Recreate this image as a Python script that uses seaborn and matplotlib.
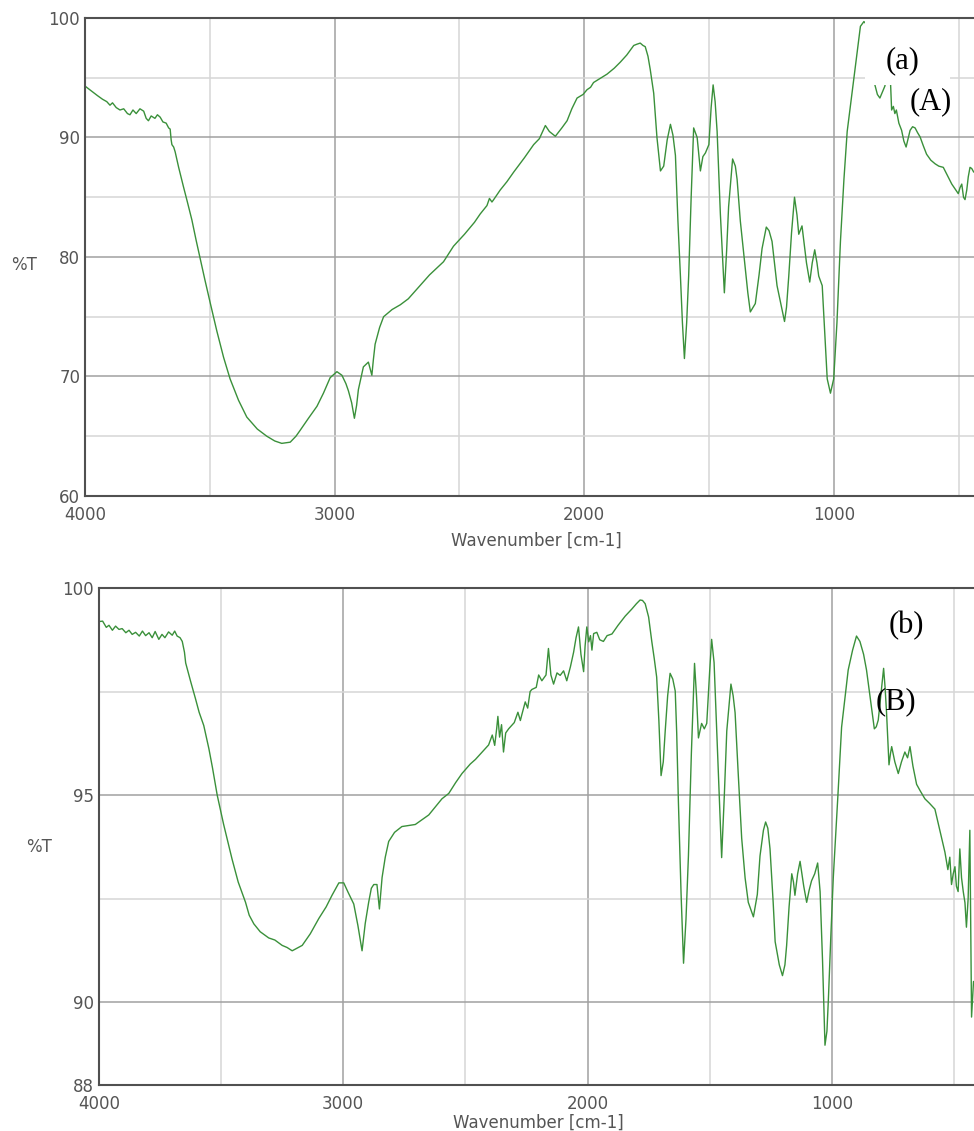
import numpy as np
import pandas as pd

import matplotlib
matplotlib.use('Agg')
import matplotlib.pyplot as plt
from matplotlib.ticker import MultipleLocator, FixedLocator
from matplotlib.patches import Rectangle
import seaborn as sns
sns.set_theme(style='white')
plt.rcParams['font.family'] = ['DejaVu Sans']

# -----------------------------------------------------------------------------
# spectrum (a): wavenumber [cm-1] / %T
# -----------------------------------------------------------------------------
wn_a = [4000, 3975, 3950, 3930, 3913, 3900, 3890, 3875, 3860, 3845, 3830, 3820,
        3808, 3795, 3780, 3765, 3755, 3746, 3735, 3720, 3710, 3699, 3688, 3675,
        3665, 3659, 3655, 3652, 3645, 3639, 3625, 3606, 3590, 3572, 3555, 3539,
        3520, 3499, 3472, 3445, 3419, 3385, 3352, 3310, 3272, 3240, 3212, 3178,
        3155, 3138, 3105, 3071, 3045, 3018, 2991, 2971, 2955, 2945, 2932, 2921,
        2912, 2905, 2885, 2865, 2851, 2845, 2838, 2820, 2804, 2770, 2737, 2705,
        2671, 2620, 2564, 2524, 2480, 2440, 2417, 2390, 2380, 2370, 2363, 2337,
        2310, 2283, 2240, 2203, 2180, 2156, 2140, 2116, 2090, 2069, 2050, 2029,
        2005, 1989, 1975, 1963, 1940, 1909, 1880, 1856, 1830, 1802, 1790, 1776,
        1765, 1756, 1745, 1736, 1722, 1709, 1695, 1682, 1668, 1655, 1645, 1635,
        1625, 1615, 1607, 1599, 1590, 1582, 1572, 1562, 1548, 1535, 1525, 1515,
        1501, 1492, 1484, 1476, 1468, 1455, 1439, 1430, 1422, 1406, 1395, 1388,
        1375, 1361, 1345, 1335, 1315, 1300, 1288, 1271, 1260, 1248, 1228, 1210,
        1198, 1190, 1181, 1170, 1158, 1148, 1141, 1128, 1110, 1097, 1087, 1077,
        1068, 1061, 1047, 1035, 1027, 1014, 1001, 988, 974, 960, 947, 921,
        905, 894, 880, 871, 860, 848, 836, 826, 816, 806, 796, 785,
        778, 773, 769, 762, 756, 750, 740, 729, 720, 711, 703, 695,
        685, 675, 665, 655, 642, 629, 612, 595, 580, 562, 545, 528,
        515, 502, 495, 488, 481, 475, 468, 462, 455, 448, 440]
t_a = [94.3, 93.9, 93.5, 93.2, 93.0, 92.7, 92.9, 92.5, 92.3, 92.4, 92.0, 91.9,
       92.3, 92.0, 92.4, 92.2, 91.6, 91.4, 91.8, 91.6, 91.9, 91.7, 91.3, 91.2,
       90.8, 90.7, 89.8, 89.4, 89.2, 88.8, 87.5, 85.9, 84.6, 83.1, 81.4, 79.9,
       78.1, 76.2, 73.8, 71.6, 69.8, 68.0, 66.6, 65.6, 65.0, 64.6, 64.4, 64.5,
       65.0, 65.5, 66.5, 67.5, 68.6, 69.9, 70.4, 70.1, 69.4, 68.8, 67.8, 66.5,
       67.6, 68.9, 70.8, 71.2, 70.1, 71.4, 72.7, 74.1, 75.0, 75.6, 76.0, 76.5,
       77.3, 78.5, 79.6, 80.9, 81.9, 82.9, 83.6, 84.3, 84.9, 84.6, 84.8, 85.6,
       86.3, 87.1, 88.3, 89.4, 89.9, 91.0, 90.5, 90.1, 90.8, 91.4, 92.4, 93.3,
       93.6, 94.0, 94.2, 94.6, 94.9, 95.3, 95.8, 96.3, 96.9, 97.7, 97.8, 97.9,
       97.7, 97.6, 96.8, 95.7, 93.7, 90.0, 87.2, 87.6, 89.8, 91.1, 90.2, 88.5,
       83.0, 78.4, 74.5, 71.5, 74.5, 78.4, 85.0, 90.8, 90.0, 87.2, 88.4, 88.7,
       89.4, 92.5, 94.4, 93.0, 90.5, 83.6, 77.0, 80.5, 84.2, 88.2, 87.6, 86.5,
       83.0, 80.2, 77.0, 75.4, 76.1, 78.5, 80.7, 82.5, 82.2, 81.3, 77.6, 75.8,
       74.6, 75.8, 78.4, 82.0, 85.0, 83.5, 81.9, 82.6, 79.5, 77.9, 79.5, 80.6,
       79.5, 78.4, 77.6, 73.0, 69.8, 68.6, 69.8, 74.5, 81.3, 86.5, 90.5, 94.8,
       97.5, 99.3, 99.7, 99.5, 97.8, 95.8, 94.4, 93.6, 93.3, 93.8, 94.3, 95.6,
       95.5, 94.4, 92.3, 92.6, 92.0, 92.3, 91.2, 90.6, 89.7, 89.2, 89.9, 90.6,
       90.9, 90.8, 90.4, 90.05, 89.3, 88.6, 88.1, 87.8, 87.6, 87.5, 86.8, 86.1,
       85.7, 85.3, 85.8, 86.1, 85.0, 84.8, 85.6, 86.7, 87.5, 87.4, 87.1]

# -----------------------------------------------------------------------------
# spectrum (b)
# -----------------------------------------------------------------------------
wn_b = [4000, 3985, 3970, 3959, 3945, 3932, 3918, 3905, 3890, 3877, 3864, 3850,
        3835, 3822, 3809, 3795, 3782, 3770, 3755, 3742, 3730, 3715, 3700, 3690,
        3680, 3668, 3659, 3650, 3645, 3625, 3605, 3590, 3571, 3550, 3535, 3516,
        3490, 3455, 3430, 3400, 3385, 3366, 3340, 3305, 3280, 3250, 3230, 3209,
        3190, 3168, 3135, 3100, 3070, 3046, 3030, 3018, 2998, 2980, 2957, 2940,
        2923, 2910, 2896, 2885, 2875, 2862, 2852, 2847, 2841, 2828, 2814, 2790,
        2760, 2705, 2650, 2596, 2568, 2540, 2514, 2480, 2459, 2430, 2405, 2390,
        2380, 2372, 2367, 2360, 2352, 2344, 2335, 2323, 2300, 2285, 2275, 2269,
        2255, 2245, 2235, 2228, 2210, 2200, 2187, 2170, 2160, 2150, 2139, 2125,
        2112, 2098, 2085, 2070, 2057, 2047, 2037, 2027, 2016, 2010, 2003, 1995,
        1988, 1982, 1975, 1962, 1950, 1935, 1920, 1900, 1875, 1846, 1819, 1800,
        1785, 1775, 1764, 1750, 1737, 1727, 1717, 1708, 1699, 1690, 1682, 1672,
        1662, 1651, 1641, 1635, 1628, 1617, 1607, 1597, 1587, 1575, 1562, 1554,
        1546, 1533, 1522, 1512, 1500, 1492, 1482, 1471, 1461, 1451, 1440, 1430,
        1413, 1404, 1396, 1383, 1369, 1355, 1342, 1321, 1305, 1294, 1280, 1271,
        1262, 1253, 1240, 1232, 1215, 1202, 1192, 1185, 1175, 1164, 1157, 1151,
        1140, 1130, 1115, 1103, 1093, 1083, 1070, 1058, 1048, 1038, 1028, 1020,
        1014, 1004, 994, 975, 960, 945, 933, 915, 899, 885, 870, 858,
        842, 826, 818, 810, 798, 788, 782, 776, 766, 760, 755, 742,
        728, 715, 701, 690, 680, 668, 653, 638, 619, 600, 578, 560,
        548, 537, 525, 517, 510, 503, 496, 490, 483, 476, 469, 462,
        455, 449, 442, 435, 428, 420]
t_b = [99.19, 99.2, 99.05, 99.10, 98.98, 99.08, 99.00, 99.02, 98.92, 98.98, 98.88, 98.93,
       98.84, 98.96, 98.85, 98.92, 98.80, 98.95, 98.76, 98.88, 98.80, 98.94, 98.86, 98.96,
       98.84, 98.80, 98.71, 98.45, 98.19, 97.75, 97.33, 97.0, 96.68, 96.12, 95.65, 95.0,
       94.3, 93.45, 92.9, 92.41, 92.1, 91.89, 91.7, 91.55, 91.50, 91.37, 91.32, 91.24,
       91.30, 91.37, 91.65, 92.02, 92.30, 92.58, 92.75, 92.88, 92.88, 92.65, 92.37, 91.85,
       91.24, 91.9, 92.41, 92.75, 92.84, 92.84, 92.25, 92.6, 93.01, 93.5, 93.88, 94.1,
       94.24, 94.29, 94.52, 94.91, 95.04, 95.30, 95.52, 95.75, 95.86, 96.05, 96.21, 96.45,
       96.2, 96.6, 96.90, 96.4, 96.7, 96.04, 96.5, 96.60, 96.75, 97.0, 96.8, 96.94,
       97.25, 97.1, 97.5, 97.55, 97.6, 97.9, 97.76, 97.9, 98.54, 97.9, 97.68, 97.95,
       97.89, 98.0, 97.76, 98.1, 98.45, 98.8, 99.06, 98.4, 97.98, 98.6, 99.06, 98.7,
       98.85, 98.50, 98.9, 98.93, 98.75, 98.71, 98.85, 98.89, 99.1, 99.32, 99.49, 99.62,
       99.71, 99.70, 99.62, 99.3, 98.71, 98.3, 97.85, 96.8, 95.47, 95.8, 96.55, 97.4,
       97.94, 97.8, 97.51, 96.5, 94.83, 92.6, 90.94, 92.0, 93.53, 96.0, 98.18, 97.4,
       96.38, 96.73, 96.6, 96.73, 98.0, 98.76, 98.2, 96.55, 95.0, 93.49, 95.0, 96.55,
       97.68, 97.4, 96.99, 95.5, 93.96, 93.0, 92.41, 92.06, 92.6, 93.53, 94.15, 94.35,
       94.2, 93.70, 92.4, 91.46, 90.9, 90.64, 90.9, 91.37, 92.3, 93.10, 92.9, 92.58,
       93.1, 93.40, 92.8, 92.41, 92.7, 92.93, 93.1, 93.36, 92.67, 91.0, 88.96, 89.3,
       90.08, 91.6, 93.01, 95.0, 96.64, 97.4, 98.02, 98.5, 98.84, 98.71, 98.4, 98.02,
       97.3, 96.60, 96.65, 96.81, 97.5, 98.06, 97.6, 96.99, 95.73, 96.0, 96.17, 95.8,
       95.52, 95.8, 96.04, 95.9, 96.17, 95.7, 95.26, 95.1, 94.91, 94.8, 94.66, 94.2,
       93.9, 93.62, 93.2, 93.5, 92.84, 93.1, 93.27, 92.8, 92.67, 93.70, 93.0, 92.67,
       92.4, 91.81, 92.5, 94.15, 89.64, 90.5]

spectra = pd.concat([
    pd.DataFrame({'Wavenumber': wn_a, 'T': t_a, 'Sample': 'a'}),
    pd.DataFrame({'Wavenumber': wn_b, 'T': t_b, 'Sample': 'b'}),
])

line_color = '#3a903a'
text_grey = '#555555'

# -----------------------------------------------------------------------------
# figure
# -----------------------------------------------------------------------------
fig = plt.figure(figsize=(9.74, 11.31), dpi=100)
ax_a = fig.add_axes([0.0873, 0.5615, 0.9127, 0.4226])
ax_b = fig.add_axes([0.1016, 0.0407, 0.8984, 0.4394])

panels = [
    (ax_a, 'a', (4000, 439), (60, 100), MultipleLocator(10), MultipleLocator(5), (0.508, -0.075), 0.483),
    (ax_b, 'b', (4000, 418), (88, 100), FixedLocator([88, 90, 95, 100]), FixedLocator([92.5, 97.5]), (0.502, -0.058), 0.479),
]

for ax, s, xlim, ylim, ymaj, ymin, xlab_pos, ylab_y in panels:
    sns.lineplot(data=spectra.loc[spectra['Sample'] == s], x='Wavenumber', y='T',
                 sort=False, estimator=None, color=line_color, lw=1.0, ax=ax)
    ax.set_xlim(*xlim)
    ax.set_ylim(*ylim)
    ax.xaxis.set_major_locator(MultipleLocator(1000))
    ax.xaxis.set_minor_locator(MultipleLocator(500))
    ax.yaxis.set_major_locator(ymaj)
    ax.yaxis.set_minor_locator(ymin)

    ax.grid(which='major', color='#a0a0a0', lw=1.1)
    ax.grid(which='minor', color='#d6d6d6', lw=1.1)

    for side in ['left', 'bottom', 'top']:
        ax.spines[side].set_color('#505050')
        ax.spines[side].set_linewidth(1.5)
    ax.spines['right'].set_visible(False)

    ax.tick_params(which='both', direction='in', color='#505050', width=1.2,
                   labelcolor=text_grey, labelsize=12)
    ax.tick_params(which='major', length=9)
    ax.tick_params(which='minor', length=6)
    ax.tick_params(axis='x', pad=7)
    ax.tick_params(axis='y', pad=3.5)

    ax.set_xlabel('Wavenumber [cm-1]', fontsize=12, color=text_grey)
    ax.xaxis.set_label_coords(*xlab_pos)
    ax.set_ylabel('%T', fontsize=12, color=text_grey, rotation=0, va='center', ha='center')
    ax.yaxis.set_label_coords(-0.0686, ylab_y)

# white patch behind the (a) label, as in the original figure
ax_a.add_patch(Rectangle((535, 94.4), 341, 5.6, facecolor='white', edgecolor='none', zorder=2.3))

serif = ['Liberation Serif', 'DejaVu Serif']
ax_a.text(725, 96.4, '(a)', family=serif, fontsize=22, color='black', ha='center', va='center', zorder=4)
ax_a.text(612, 93.0, '(A)', family=serif, fontsize=22, color='black', ha='center', va='center', zorder=4)
ax_b.text(695, 99.1, '(b)', family=serif, fontsize=22, color='black', ha='center', va='center', zorder=4)
ax_b.text(736, 97.26, '(B)', family=serif, fontsize=22, color='black', ha='center', va='center', zorder=4)

fig.savefig('out.png', dpi=100)
plt.close('all')
